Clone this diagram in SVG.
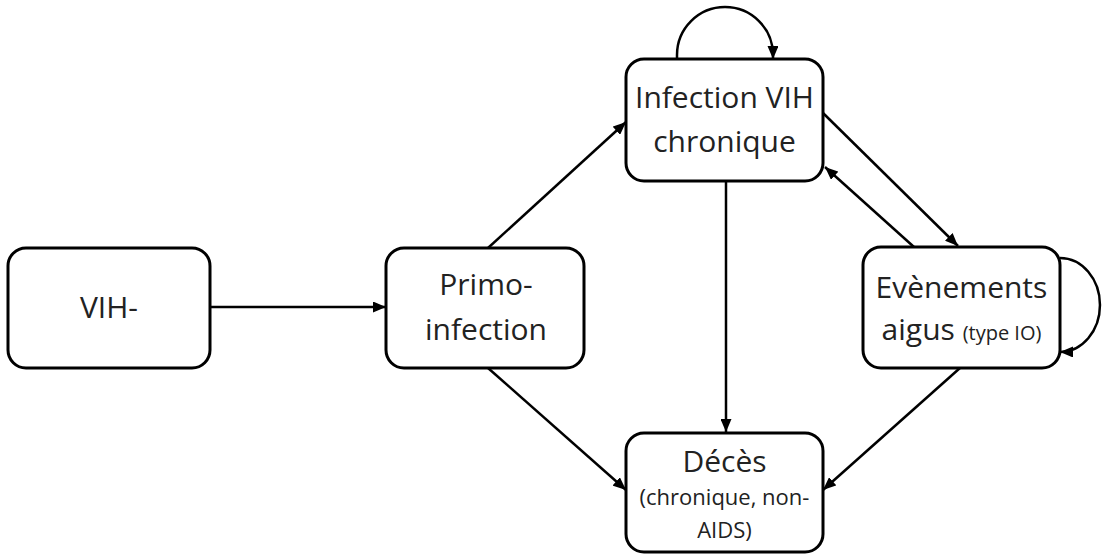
<svg xmlns="http://www.w3.org/2000/svg" width="1103" height="554" viewBox="0 0 1103 554">
<style>
.box{fill:#fff;stroke:#000;stroke-width:3}
.t{font-family:"Open Sans","Liberation Sans",sans-serif;fill:#222;text-anchor:middle}
.c{fill:none;stroke:#000;stroke-width:2.5;marker-end:url(#ah)}
</style>
<defs>
<marker id="ah" markerWidth="13" markerHeight="11" refX="13" refY="5.5" orient="auto" markerUnits="userSpaceOnUse">
<path d="M0,0 L13,5.5 L0,11 z" fill="#000"/>
</marker>
</defs>
<rect width="1103" height="554" fill="#fff"/>
<g id="connectors">
<path class="c" d="M210,307 L386,307"/>
<path class="c" d="M488,248 L626,122"/>
<path class="c" d="M488,368 L626,490"/>
<path class="c" d="M726,181 L726,432"/>
<path class="c" d="M823,113 L958,246"/>
<path class="c" d="M914,247 L825,167"/>
<path class="c" d="M960,368 L823,490"/>
<path class="c" d="M677,59 L677,55 A48,48 0 0 1 773,55 L773,59"/>
<path class="c" d="M1060,258 A40,47 0 0 1 1060,352"/>
</g>
<g id="vih-neg">
<rect class="box" x="8" y="248" width="202" height="120" rx="18"/>
<text class="t" x="109" y="318" font-size="30">VIH-</text>
</g>
<g id="primo">
<rect class="box" x="386" y="248" width="198" height="120" rx="18"/>
<text class="t" x="486" y="295" font-size="30">Primo-</text>
<text class="t" x="486" y="340" font-size="30">infection</text>
</g>
<g id="chronique">
<rect class="box" x="626" y="59" width="197" height="122" rx="18"/>
<text class="t" x="724.5" y="108" font-size="30">Infection VIH</text>
<text class="t" x="724.5" y="152" font-size="30">chronique</text>
</g>
<g id="evenements">
<rect class="box" x="863" y="247" width="197" height="121" rx="18"/>
<text class="t" x="961.5" y="298" font-size="30">Evènements</text>
<text class="t" x="961.5" y="340" font-size="30">aigus <tspan font-size="20">(type IO)</tspan></text>
</g>
<g id="deces">
<rect class="box" x="626" y="433" width="197" height="119" rx="18"/>
<text class="t" x="724.5" y="472" font-size="30">Décès</text>
<text class="t" x="724.5" y="505" font-size="22">(chronique, non-</text>
<text class="t" x="724.5" y="538" font-size="22">AIDS)</text>
</g>
</svg>
